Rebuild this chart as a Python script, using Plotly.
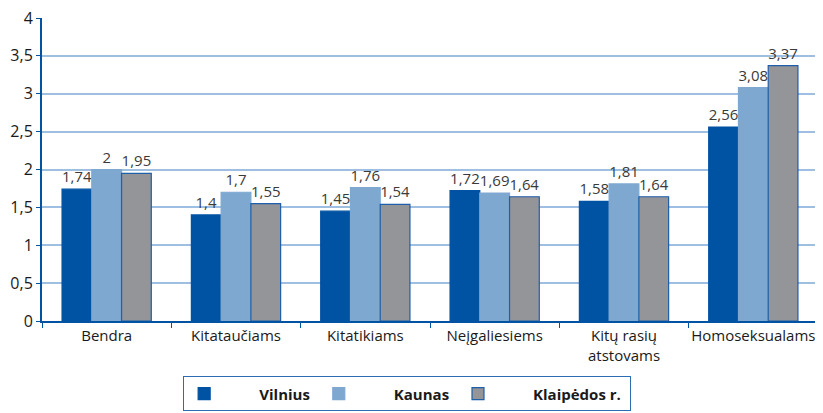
import plotly.graph_objects as go

categories = ["Bendra", "Kitataučiams", "Kitatikiams", "Neįgaliesiems",
              "Kitų rasių<br>atstovams", "Homoseksualams"]
vilnius = [1.74, 1.4, 1.45, 1.72, 1.58, 2.56]
kaunas = [2, 1.7, 1.76, 1.69, 1.81, 3.08]
klaipeda = [1.95, 1.55, 1.54, 1.64, 1.64, 3.37]
series_names = ["Vilnius", "Kaunas", "Klaipėdos r."]
y_ticks = [0, 0.5, 1, 1.5, 2, 2.5, 3, 3.5, 4]


def fmt(v):
    return ("%g" % v).replace(".", ",")


colors = ["#0052a3", "#7fa8d1", "#939598"]
borders = ["#0052a3", "#7fa8d1", "#1f5ea8"]

fig = go.Figure()
for name, vals, c, b in zip(series_names, [vilnius, kaunas, klaipeda], colors, borders):
    fig.add_trace(go.Bar(
        x=categories, y=vals, name="         " + name + " ",
        marker=dict(color=c, line=dict(color=b, width=1.2)),
        text=[fmt(v) for v in vals], textposition="outside",
        textfont=dict(color="#3a3a3a", size=15), cliponaxis=False,
    ))

# page body has an 8px margin, so margins are shifted to compensate
fig.update_layout(
    width=823, height=413,
    margin=dict(l=34, r=13, t=10, b=100, autoexpand=False),
    plot_bgcolor="white", paper_bgcolor="white",
    font=dict(family="Open Sans", size=15, color="#1a1a1a"),
    barmode="group", bargap=0.31, bargroupgap=0,
    showlegend=True,
    legend=dict(
        orientation="h", xref="container", yref="container",
        x=0.485, xanchor="center", y=0.108, yanchor="top",
        bordercolor="#2f6db3", borderwidth=1,
        font=dict(size=15, color="#1a1a1a", family="Open Sans", weight="bold"),
        traceorder="normal", itemwidth=30,
    ),
)
fig.update_yaxes(
    range=[0, 4], tickvals=y_ticks, ticktext=[fmt(v) for v in y_ticks],
    showgrid=True, gridcolor="#9fbfe2", gridwidth=1.5,
    showline=True, linecolor="#0052a3", linewidth=2,
    ticks="outside", tickcolor="#0052a3", ticklen=4,
    zeroline=False, tickfont=dict(size=16), ticklabeloverflow="allow",
)
fig.update_xaxes(
    showline=True, linecolor="#0052a3", linewidth=2,
    ticks="outside", tickson="boundaries", tickcolor="#0052a3", ticklen=5,
    tickfont=dict(size=15), tickangle=0, ticklabeloverflow="allow",
)

fig.write_html("out.html")
